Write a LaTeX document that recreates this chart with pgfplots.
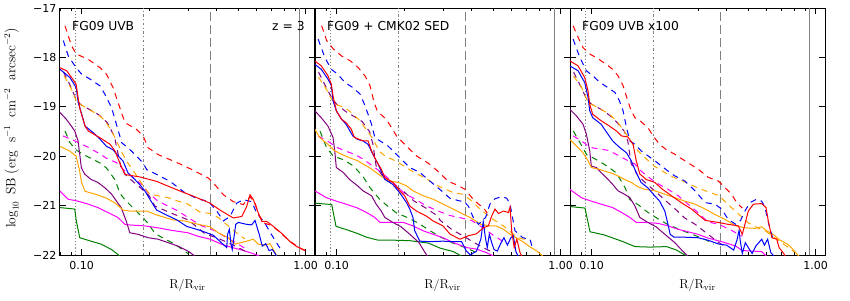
\documentclass[border=0pt]{standalone}
\usepackage{pgfplots}
\pgfplotsset{compat=1.18}
\usepackage{fontspec}
\newfontfamily\dejavu{DejaVu Sans}
\definecolor{mred}{RGB}{255,0,0}
\definecolor{mblue}{RGB}{0,0,255}
\definecolor{morange}{RGB}{255,165,0}
\definecolor{mmagenta}{RGB}{255,0,255}
\definecolor{mpurple}{RGB}{128,0,128}
\definecolor{mgreen}{RGB}{0,128,0}
\definecolor{mgray}{RGB}{128,128,128}
\newcommand{\ticfont}{\dejavu\fontsize{11}{13}\selectfont}
\newcommand{\labfont}{\fontsize{13}{15}\selectfont}
\newcommand{\ylabfont}{\fontsize{13.5}{16}\selectfont}
\newcommand{\txtfont}{\dejavu\fontsize{12.3}{14}\selectfont}
\tikzset{sol/.style={line width=1pt}, das/.style={line width=1pt, dash pattern=on 6pt off 5pt}}
\newcommand{\vlines}{%
  \addplot[mgray, line width=1.2pt, dash pattern=on 1.2pt off 2pt] coordinates {(0.094,-22) (0.094,-17)};
  \addplot[mgray, line width=1.1pt, dash pattern=on 2.5pt off 2.5pt on 1pt off 2.5pt] coordinates {(0.188,-22) (0.188,-17)};
  \addplot[mgray, line width=1.2pt, dash pattern=on 9pt off 4pt] coordinates {(0.375,-22) (0.375,-17)};
  \addplot[mgray, line width=1.2pt] coordinates {(0.937,-22) (0.937,-17)};
}
\begin{document}
\begin{tikzpicture}
\useasboundingbox (0,0) rectangle (850pt,300pt);
% ---------------- Panel 1 ----------------
\begin{axis}[xmode=log, scale only axis, width=255pt, height=247pt, anchor=south west,
    xmin=0.08, xmax=1.1, ymin=-22, ymax=-17,
    xtick={0.1,1}, xticklabels={0.10,1.00},
    minor xtick={0.08,0.09,0.2,0.3,0.4,0.5,0.6,0.7,0.8,0.9},
    ytick={-22,-21,-20,-19,-18,-17},
    tick align=inside, major tick length=6pt, minor tick length=3pt,
    tick style={black, line width=0.8pt}, axis line style={line width=1pt},
    ticklabel style={font=\ticfont}, xticklabel style={yshift=-3pt},
    xlabel style={font=\labfont, at={(axis description cs:0.5,-0.125)}, anchor=center},
    xlabel={$\mathrm{R/R_{vir}}$}, clip=true,
  at={(60pt,45pt)},
  yticklabels={−22,−21,−20,−19,−18,−17},
  ylabel style={font=\ylabfont, at={(axis description cs:-0.19,0.515)}, anchor=center, rotate=0},
  ylabel={$\log_{10}\;\mathrm{SB}\;(\mathrm{erg}\;\;\mathrm{s}^{-1}\;\;\mathrm{cm}^{-2}\;\;\mathrm{arcsec}^{-2})$}]
\vlines
\addplot[mgreen, sol] coordinates {(0.0798,-21.04) (0.0931,-21.07) (0.0946,-21.31) (0.098,-21.65) (0.110,-21.72) (0.122,-21.78) (0.136,-21.89) (0.145,-21.99) (0.15,-22.05)};
\addplot[mgreen, das] coordinates {(0.0842,-19.49) (0.0887,-19.73) (0.0944,-19.87) (0.102,-19.97) (0.113,-20.07) (0.121,-20.14) (0.129,-20.24) (0.141,-20.48) (0.148,-20.75) (0.156,-20.88) (0.170,-21.05) (0.188,-21.25) (0.198,-21.36) (0.212,-21.56) (0.231,-21.66) (0.256,-21.76) (0.284,-21.90) (0.3,-21.98)};
\addplot[mmagenta, sol] coordinates {(0.0798,-20.70) (0.0869,-20.87) (0.0963,-20.91) (0.107,-20.97) (0.118,-21.04) (0.131,-21.14) (0.145,-21.24) (0.156,-21.38) (0.161,-21.39) (0.191,-21.41) (0.219,-21.45) (0.251,-21.50) (0.298,-21.55) (0.33,-21.62) (0.374,-21.68) (0.42,-21.78) (0.47,-21.85) (0.52,-21.9) (0.58,-21.97) (0.62,-22.02)};
\addplot[mmagenta, das] coordinates {(0.0826,-19.59) (0.0899,-19.66) (0.0963,-19.72) (0.107,-19.82) (0.118,-19.93) (0.131,-20.06) (0.143,-20.13) (0.156,-20.30) (0.169,-20.43) (0.185,-20.57) (0.198,-20.74) (0.219,-20.91) (0.243,-21.01) (0.269,-21.11) (0.298,-21.24) (0.343,-21.41) (0.394,-21.51) (0.444,-21.65) (0.5,-21.78) (0.55,-21.9)};
\addplot[mpurple, sol] coordinates {(0.0798,-19.11) (0.0853,-19.25) (0.0899,-19.39) (0.0931,-19.49) (0.0963,-19.69) (0.098,-19.96) (0.0996,-20.23) (0.103,-20.36) (0.110,-20.47) (0.118,-20.53) (0.127,-20.64) (0.136,-20.77) (0.143,-20.91) (0.150,-21.04) (0.158,-21.31) (0.164,-21.55) (0.178,-21.58) (0.198,-21.65) (0.219,-21.68) (0.243,-21.75) (0.269,-21.82) (0.298,-21.92) (0.32,-22.02)};
\addplot[mpurple, das] coordinates {(0.083,-18.30) (0.09,-18.62) (0.095,-18.88) (0.1,-18.97) (0.11,-19.07) (0.12,-19.17) (0.13,-19.32) (0.14,-19.6) (0.15,-20.25) (0.16,-20.42) (0.179,-20.60) (0.2,-20.8) (0.212,-21.01) (0.25,-21.15) (0.299,-21.29) (0.355,-21.57) (0.4,-21.65) (0.45,-21.75) (0.5,-21.85) (0.55,-21.95)};
\addplot[morange, sol] coordinates {(0.080,-19.80) (0.0887,-19.90) (0.0944,-20.0) (0.0976,-20.27) (0.1,-20.54) (0.1035,-20.71) (0.117,-20.78) (0.129,-20.85) (0.141,-20.95) (0.153,-21.09) (0.164,-21.11) (0.195,-21.11) (0.216,-21.19) (0.256,-21.29) (0.289,-21.31) (0.332,-21.38) (0.374,-21.43) (0.407,-21.55) (0.451,-21.65) (0.483,-21.78) (0.535,-21.73) (0.584,-21.68) (0.614,-21.78) (0.658,-21.80) (0.693,-21.77) (0.717,-21.89) (0.743,-22.02)};
\addplot[morange, das] coordinates {(0.0834,-18.37) (0.0899,-18.64) (0.0946,-18.88) (0.101,-18.98) (0.110,-19.08) (0.118,-19.15) (0.127,-19.28) (0.136,-19.49) (0.143,-19.69) (0.150,-19.89) (0.158,-20.09) (0.166,-20.23) (0.178,-20.43) (0.188,-20.60) (0.201,-20.77) (0.219,-20.80) (0.243,-20.84) (0.269,-20.91) (0.298,-20.97) (0.337,-21.13) (0.374,-21.16) (0.407,-21.24) (0.451,-21.41) (0.509,-21.61) (0.535,-21.67)};
\addplot[mblue, sol] coordinates {(0.080,-18.24) (0.0887,-18.41) (0.0944,-18.61) (0.0966,-18.92) (0.1,-19.15) (0.1035,-19.39) (0.113,-19.53) (0.121,-19.66) (0.129,-19.80) (0.138,-19.87) (0.146,-20.0) (0.153,-20.10) (0.161,-20.34) (0.17,-20.44) (0.182,-20.58) (0.192,-20.71) (0.202,-20.88) (0.216,-21.09) (0.239,-21.19) (0.266,-21.29) (0.294,-21.42) (0.337,-21.5) (0.387,-21.6) (0.42,-21.75) (0.444,-21.85) (0.448,-21.58) (0.456,-21.48) (0.464,-21.78) (0.47,-21.89) (0.478,-21.65) (0.487,-21.38) (0.5,-21.34) (0.545,-21.38) (0.574,-21.39) (0.594,-21.30) (0.62,-21.58) (0.64,-21.82) (0.663,-21.77) (0.686,-21.91) (0.71,-21.89) (0.73,-21.97) (0.745,-22.05)};
\addplot[mblue, das] coordinates {(0.0828,-17.66) (0.0871,-17.97) (0.0944,-18.21) (0.1,-18.34) (0.109,-18.44) (0.121,-18.58) (0.127,-18.75) (0.136,-19.02) (0.143,-19.36) (0.151,-19.73) (0.161,-19.83) (0.176,-20.0) (0.188,-20.14) (0.195,-20.27) (0.216,-20.37) (0.248,-20.51) (0.289,-20.74) (0.332,-20.87) (0.367,-20.91) (0.401,-21.11) (0.429,-21.31) (0.459,-21.22) (0.492,-20.95) (0.526,-20.88) (0.574,-20.92) (0.604,-21.15) (0.658,-21.36) (0.704,-21.59) (0.767,-21.86)};
\addplot[mred, sol] coordinates {(0.080,-18.21) (0.0857,-18.27) (0.0902,-18.41) (0.0944,-18.54) (0.0966,-18.85) (0.0983,-19.05) (0.1035,-19.39) (0.107,-19.49) (0.121,-19.63) (0.134,-19.76) (0.141,-19.90) (0.148,-20.14) (0.156,-20.37) (0.182,-20.42) (0.216,-20.51) (0.266,-20.68) (0.315,-20.81) (0.374,-20.95) (0.414,-21.09) (0.475,-21.25) (0.518,-21.22) (0.545,-21.02) (0.564,-20.78) (0.584,-20.88) (0.614,-21.15) (0.637,-21.32) (0.67,-21.32) (0.717,-21.42) (0.794,-21.59) (0.851,-21.73) (0.912,-21.83) (0.99,-21.9)};
\addplot[mred, das] coordinates {(0.0842,-17.36) (0.0902,-17.77) (0.0944,-17.93) (0.107,-18.04) (0.121,-18.21) (0.129,-18.34) (0.138,-18.61) (0.148,-19.02) (0.156,-19.32) (0.176,-19.46) (0.188,-19.59) (0.198,-19.83) (0.22,-19.97) (0.248,-20.07) (0.279,-20.17) (0.31,-20.27) (0.367,-20.44) (0.387,-20.54) (0.429,-20.78) (0.475,-20.92) (0.526,-20.98) (0.564,-20.82) (0.594,-20.95) (0.62,-21.2) (0.65,-21.35) (0.7,-21.4) (0.75,-21.5) (0.8,-21.62) (0.85,-21.72) (0.9,-21.8) (0.96,-21.88) (1.0,-21.92)};
\node[anchor=west, font=\txtfont, inner sep=0pt] at (rel axis cs:0.047,0.927) {FG09 UVB};
\node[anchor=east, font=\txtfont, inner sep=0pt] at (rel axis cs:0.96,0.927) {z = 3};
\end{axis}
% ---------------- Panel 2 ----------------
\begin{axis}[xmode=log, scale only axis, width=255pt, height=247pt, anchor=south west,
    xmin=0.08, xmax=1.1, ymin=-22, ymax=-17,
    xtick={0.1,1}, xticklabels={0.10,1.00},
    minor xtick={0.08,0.09,0.2,0.3,0.4,0.5,0.6,0.7,0.8,0.9},
    ytick={-22,-21,-20,-19,-18,-17},
    tick align=inside, major tick length=6pt, minor tick length=3pt,
    tick style={black, line width=0.8pt}, axis line style={line width=1pt},
    ticklabel style={font=\ticfont}, xticklabel style={yshift=-3pt},
    xlabel style={font=\labfont, at={(axis description cs:0.5,-0.125)}, anchor=center},
    xlabel={$\mathrm{R/R_{vir}}$}, clip=true,
    at={(315pt,45pt)}, yticklabels={}]
\vlines
\addplot[mgreen, sol] coordinates {(0.08,-20.95) (0.095,-20.98) (0.0993,-21.42) (0.111,-21.49) (0.123,-21.56) (0.136,-21.64) (0.153,-21.70) (0.179,-21.70) (0.212,-21.71) (0.257,-21.76) (0.289,-21.86) (0.331,-21.93) (0.36,-22.02)};
\addplot[mgreen, das] coordinates {(0.0842,-19.49) (0.0902,-19.83) (0.0966,-20.0) (0.107,-20.07) (0.119,-20.20) (0.131,-20.41) (0.141,-20.64) (0.156,-20.88) (0.17,-21.02) (0.185,-21.15) (0.209,-21.25) (0.232,-21.36) (0.257,-21.49) (0.289,-21.63) (0.331,-21.76) (0.38,-21.86) (0.42,-21.95)};
\addplot[mmagenta, sol] coordinates {(0.0798,-20.70) (0.0899,-20.84) (0.0996,-20.91) (0.110,-20.97) (0.124,-21.05) (0.136,-21.14) (0.148,-21.24) (0.156,-21.34) (0.172,-21.34) (0.198,-21.34) (0.219,-21.41) (0.243,-21.51) (0.269,-21.58) (0.298,-21.65) (0.332,-21.75) (0.38,-21.85) (0.42,-21.88) (0.465,-21.95) (0.5,-22.02)};
\addplot[mmagenta, das] coordinates {(0.0826,-19.59) (0.09,-19.68) (0.095,-19.75) (0.1,-19.82) (0.11,-19.9) (0.12,-19.96) (0.13,-20.05) (0.14,-20.15) (0.15,-20.25) (0.16,-20.35) (0.17,-20.45) (0.18,-20.55) (0.19,-20.65) (0.2,-20.75) (0.22,-20.85) (0.25,-21.0) (0.28,-21.1) (0.32,-21.2) (0.36,-21.25) (0.4,-21.3) (0.45,-21.45) (0.5,-21.6) (0.55,-21.72)};
\addplot[mpurple, sol] coordinates {(0.0798,-19.08) (0.0853,-19.22) (0.0914,-19.39) (0.0963,-19.62) (0.098,-19.89) (0.0996,-20.23) (0.107,-20.33) (0.114,-20.47) (0.124,-20.60) (0.131,-20.70) (0.143,-20.80) (0.150,-20.97) (0.158,-21.11) (0.164,-21.24) (0.178,-21.34) (0.194,-21.43) (0.212,-21.58) (0.233,-21.75) (0.251,-21.99) (0.255,-22.03)};
\addplot[mpurple, das] coordinates {(0.083,-18.3) (0.09,-18.62) (0.095,-18.82) (0.1,-18.95) (0.11,-19.1) (0.12,-19.2) (0.13,-19.3) (0.14,-19.5) (0.145,-19.75) (0.15,-20.2) (0.16,-20.4) (0.18,-20.58) (0.2,-20.72) (0.22,-20.9) (0.25,-21.05) (0.28,-21.2) (0.29,-21.3) (0.33,-21.5) (0.37,-21.62) (0.4,-21.72) (0.45,-21.85) (0.5,-21.95)};
\addplot[morange, sol] coordinates {(0.0798,-19.45) (0.0839,-19.62) (0.0914,-19.76) (0.098,-19.89) (0.105,-19.96) (0.114,-20.03) (0.124,-20.09) (0.131,-20.16) (0.140,-20.23) (0.150,-20.33) (0.161,-20.43) (0.172,-20.50) (0.188,-20.53) (0.205,-20.60) (0.219,-20.70) (0.243,-20.80) (0.269,-20.87) (0.298,-20.97) (0.321,-21.04) (0.355,-21.14) (0.394,-21.24) (0.44,-21.38) (0.483,-21.41) (0.514,-21.41) (0.555,-21.48) (0.594,-21.58) (0.637,-21.66) (0.677,-21.73) (0.72,-21.82) (0.782,-21.92) (0.808,-21.97) (0.83,-22.02)};
\addplot[morange, das] coordinates {(0.083,-18.4) (0.09,-18.65) (0.095,-18.85) (0.101,-18.97) (0.107,-19.0) (0.115,-19.1) (0.125,-19.25) (0.135,-19.45) (0.145,-19.65) (0.155,-19.9) (0.165,-20.0) (0.18,-20.08) (0.2,-20.2) (0.22,-20.32) (0.25,-20.45) (0.27,-20.55) (0.289,-20.62) (0.332,-20.74) (0.367,-20.77) (0.401,-20.91) (0.429,-21.04) (0.462,-21.16) (0.5,-21.28) (0.555,-21.41) (0.604,-21.55) (0.645,-21.65) (0.686,-21.68) (0.72,-21.73)};
\addplot[mblue, sol] coordinates {(0.0798,-18.14) (0.0853,-18.24) (0.0914,-18.44) (0.0946,-18.57) (0.0963,-18.88) (0.0996,-19.08) (0.105,-19.25) (0.110,-19.35) (0.118,-19.59) (0.124,-19.66) (0.131,-19.69) (0.138,-19.76) (0.145,-19.96) (0.153,-20.16) (0.164,-20.47) (0.178,-20.57) (0.191,-20.74) (0.205,-20.94) (0.212,-21.07) (0.219,-21.24) (0.223,-21.51) (0.235,-21.72) (0.26,-21.73) (0.298,-21.72) (0.332,-21.73) (0.361,-21.73) (0.379,-21.92) (0.395,-22.0) (0.421,-21.92) (0.44,-21.68) (0.451,-21.32) (0.461,-21.65) (0.47,-21.85) (0.48,-21.58) (0.492,-21.75) (0.504,-21.89) (0.521,-21.92) (0.539,-21.77) (0.558,-21.65) (0.578,-21.80) (0.599,-21.65) (0.614,-21.61) (0.631,-21.93) (0.645,-22.02)};
\addplot[mblue, das] coordinates {(0.0826,-17.63) (0.0885,-18.0) (0.0946,-18.24) (0.101,-18.34) (0.109,-18.51) (0.118,-18.61) (0.127,-18.74) (0.133,-18.95) (0.138,-19.15) (0.143,-19.35) (0.148,-19.62) (0.156,-19.69) (0.169,-19.79) (0.182,-19.93) (0.194,-20.06) (0.212,-20.23) (0.235,-20.33) (0.26,-20.5) (0.29,-20.68) (0.32,-20.85) (0.35,-20.9) (0.37,-20.92) (0.387,-21.01) (0.407,-21.24) (0.429,-21.38) (0.462,-21.24) (0.483,-20.97) (0.509,-20.86) (0.545,-20.82) (0.574,-20.85) (0.594,-20.97) (0.625,-21.51) (0.677,-21.65) (0.73,-21.68) (0.75,-21.89)};
\addplot[mred, sol] coordinates {(0.0798,-18.07) (0.0853,-18.17) (0.0914,-18.37) (0.0946,-18.54) (0.0963,-18.78) (0.0996,-19.08) (0.105,-19.25) (0.110,-19.32) (0.116,-19.45) (0.120,-19.62) (0.131,-19.69) (0.138,-19.69) (0.143,-19.89) (0.150,-20.09) (0.158,-20.26) (0.164,-20.43) (0.178,-20.53) (0.191,-20.70) (0.201,-20.80) (0.212,-21.01) (0.227,-21.11) (0.251,-21.21) (0.269,-21.31) (0.298,-21.41) (0.321,-21.58) (0.355,-21.68) (0.387,-21.61) (0.421,-21.57) (0.451,-21.45) (0.475,-21.41) (0.492,-21.21) (0.509,-21.07) (0.527,-21.16) (0.555,-21.11) (0.584,-21.14) (0.594,-21.03) (0.604,-21.51) (0.62,-21.85) (0.637,-21.68) (0.658,-21.95) (0.67,-22.02)};
\addplot[mred, das] coordinates {(0.0857,-17.36) (0.0902,-17.66) (0.0966,-17.83) (0.105,-17.97) (0.115,-18.07) (0.125,-18.21) (0.134,-18.38) (0.141,-18.58) (0.147,-18.92) (0.152,-19.09) (0.167,-19.26) (0.185,-19.59) (0.205,-19.80) (0.228,-20.0) (0.256,-20.14) (0.289,-20.34) (0.315,-20.51) (0.343,-20.58) (0.374,-20.67) (0.401,-20.84) (0.43,-20.97) (0.451,-21.04) (0.47,-21.15)};
\node[anchor=west, font=\txtfont, inner sep=0pt] at (rel axis cs:0.047,0.927) {FG09 + CMK02 SED};
\end{axis}
% ---------------- Panel 3 ----------------
\begin{axis}[xmode=log, scale only axis, width=255pt, height=247pt, anchor=south west,
    xmin=0.08, xmax=1.1, ymin=-22, ymax=-17,
    xtick={0.1,1}, xticklabels={0.10,1.00},
    minor xtick={0.08,0.09,0.2,0.3,0.4,0.5,0.6,0.7,0.8,0.9},
    ytick={-22,-21,-20,-19,-18,-17},
    tick align=inside, major tick length=6pt, minor tick length=3pt,
    tick style={black, line width=0.8pt}, axis line style={line width=1pt},
    ticklabel style={font=\ticfont}, xticklabel style={yshift=-3pt},
    xlabel style={font=\labfont, at={(axis description cs:0.5,-0.125)}, anchor=center},
    xlabel={$\mathrm{R/R_{vir}}$}, clip=true,
    at={(570pt,45pt)}, yticklabels={}]
\vlines
\addplot[mgreen, sol] coordinates {(0.0805,-21.02) (0.0933,-21.05) (0.0983,-21.53) (0.113,-21.59) (0.125,-21.66) (0.138,-21.73) (0.156,-21.83) (0.182,-21.84) (0.216,-21.83) (0.239,-21.90) (0.265,-22.02)};
\addplot[mgreen, das] coordinates {(0.0828,-19.49) (0.0887,-19.73) (0.095,-19.97) (0.105,-20.07) (0.117,-20.20) (0.129,-20.34) (0.141,-20.64) (0.148,-20.88) (0.161,-20.98) (0.176,-21.12) (0.195,-21.25) (0.216,-21.37) (0.248,-21.49) (0.284,-21.59) (0.326,-21.70) (0.35,-21.78)};
\addplot[mmagenta, sol] coordinates {(0.0798,-20.67) (0.0899,-20.84) (0.0996,-20.91) (0.110,-20.97) (0.124,-21.04) (0.136,-21.14) (0.148,-21.24) (0.158,-21.34) (0.172,-21.34) (0.198,-21.36) (0.219,-21.41) (0.243,-21.48) (0.269,-21.53) (0.298,-21.58) (0.332,-21.66) (0.38,-21.73) (0.44,-21.82) (0.47,-21.91) (0.514,-21.92) (0.574,-21.93) (0.6,-22.02)};
\addplot[mmagenta, das] coordinates {(0.0826,-19.59) (0.09,-19.69) (0.098,-19.82) (0.107,-19.85) (0.118,-19.88) (0.131,-19.98) (0.145,-20.09) (0.156,-20.16) (0.166,-20.30) (0.185,-20.47) (0.2,-20.57) (0.219,-20.67) (0.243,-20.80) (0.269,-20.97) (0.298,-21.14) (0.33,-21.33) (0.37,-21.38) (0.42,-21.5) (0.47,-21.62)};
\addplot[mpurple, sol] coordinates {(0.0798,-19.05) (0.0853,-19.18) (0.0914,-19.35) (0.0946,-19.55) (0.098,-19.89) (0.0996,-20.20) (0.105,-20.23) (0.110,-20.33) (0.116,-20.43) (0.124,-20.57) (0.131,-20.70) (0.140,-20.77) (0.148,-20.84) (0.156,-21.01) (0.164,-21.24) (0.178,-21.34) (0.194,-21.43) (0.212,-21.58) (0.235,-21.75) (0.251,-21.89) (0.264,-21.99) (0.27,-22.03)};
\addplot[mpurple, das] coordinates {(0.083,-18.3) (0.09,-18.62) (0.095,-18.85) (0.1,-18.95) (0.11,-19.05) (0.12,-19.17) (0.13,-19.32) (0.14,-19.5) (0.145,-19.7) (0.15,-20.15) (0.16,-20.38) (0.17,-20.5) (0.18,-20.6) (0.2,-20.78) (0.22,-20.95) (0.24,-21.1) (0.26,-21.25) (0.29,-21.38) (0.33,-21.58) (0.37,-21.75) (0.4,-21.85)};
\addplot[morange, sol] coordinates {(0.0798,-19.66) (0.0853,-19.79) (0.0914,-19.93) (0.0963,-20.09) (0.0996,-20.23) (0.107,-20.26) (0.114,-20.30) (0.124,-20.35) (0.131,-20.40) (0.140,-20.47) (0.150,-20.53) (0.161,-20.62) (0.172,-20.67) (0.191,-20.70) (0.212,-20.77) (0.235,-20.84) (0.26,-20.91) (0.289,-20.97) (0.321,-21.07) (0.355,-21.18) (0.394,-21.28) (0.44,-21.41) (0.483,-21.45) (0.535,-21.46) (0.574,-21.43) (0.604,-21.51) (0.645,-21.58) (0.693,-21.70) (0.743,-21.77) (0.782,-21.86) (0.82,-21.97) (0.84,-22.02)};
\addplot[morange, das] coordinates {(0.083,-18.38) (0.09,-18.6) (0.095,-18.85) (0.1,-18.95) (0.11,-19.05) (0.12,-19.15) (0.13,-19.3) (0.14,-19.5) (0.15,-19.7) (0.16,-19.88) (0.17,-20.0) (0.18,-20.1) (0.19,-20.2) (0.21,-20.32) (0.23,-20.42) (0.26,-20.52) (0.29,-20.62) (0.33,-20.72) (0.37,-20.8) (0.4,-20.95) (0.44,-21.12) (0.5,-21.35) (0.55,-21.45) (0.6,-21.52) (0.65,-21.64) (0.7,-21.74) (0.75,-21.84) (0.8,-21.93)};
\addplot[mblue, sol] coordinates {(0.0798,-18.17) (0.0869,-18.27) (0.0931,-18.51) (0.0963,-18.81) (0.098,-19.08) (0.101,-19.22) (0.110,-19.35) (0.118,-19.55) (0.124,-19.69) (0.133,-19.82) (0.143,-19.93) (0.150,-20.09) (0.158,-20.33) (0.166,-20.53) (0.178,-20.64) (0.191,-20.80) (0.201,-20.91) (0.212,-21.11) (0.219,-21.38) (0.224,-21.58) (0.233,-21.64) (0.26,-21.64) (0.298,-21.65) (0.33,-21.7) (0.37,-21.78) (0.4,-21.8) (0.43,-21.9) (0.445,-21.7) (0.455,-21.5) (0.46,-21.7) (0.47,-21.97) (0.485,-21.75) (0.5,-21.85) (0.52,-21.97) (0.54,-21.82) (0.574,-21.68) (0.59,-21.8) (0.61,-21.68) (0.63,-21.95) (0.65,-22.02)};
\addplot[mblue, das] coordinates {(0.0826,-17.63) (0.0885,-18.0) (0.0946,-18.27) (0.101,-18.37) (0.109,-18.51) (0.118,-18.61) (0.127,-18.71) (0.133,-18.88) (0.138,-19.08) (0.143,-19.42) (0.148,-19.69) (0.156,-19.76) (0.166,-19.89) (0.178,-19.99) (0.191,-20.09) (0.205,-20.20) (0.219,-20.30) (0.235,-20.40) (0.26,-20.50) (0.289,-20.7) (0.321,-20.94) (0.355,-20.97) (0.38,-21.07) (0.407,-21.28) (0.44,-21.38) (0.462,-21.30) (0.483,-21.11) (0.509,-20.94) (0.545,-20.87) (0.574,-20.91) (0.594,-21.04) (0.62,-21.41) (0.645,-21.68)};
\addplot[mred, sol] coordinates {(0.0798,-18.07) (0.0869,-18.17) (0.0931,-18.41) (0.0963,-18.68) (0.098,-18.95) (0.101,-19.15) (0.110,-19.28) (0.120,-19.39) (0.129,-19.49) (0.136,-19.59) (0.145,-19.61) (0.153,-19.76) (0.158,-20.09) (0.164,-20.36) (0.175,-20.47) (0.191,-20.53) (0.207,-20.67) (0.227,-20.80) (0.251,-20.94) (0.279,-21.07) (0.298,-21.18) (0.321,-21.30) (0.367,-21.34) (0.407,-21.38) (0.451,-21.41) (0.47,-21.58) (0.483,-21.38) (0.5,-21.11) (0.527,-20.97) (0.574,-20.96) (0.6,-21.04) (0.614,-21.31) (0.637,-21.65) (0.67,-21.68) (0.686,-21.85) (0.72,-21.97) (0.73,-22.02)};
\addplot[mred, das] coordinates {(0.0826,-17.36) (0.0869,-17.59) (0.0914,-17.80) (0.098,-17.93) (0.107,-18.03) (0.116,-18.14) (0.124,-18.24) (0.131,-18.37) (0.138,-18.57) (0.145,-18.88) (0.150,-19.08) (0.156,-19.22) (0.164,-19.28) (0.178,-19.42) (0.188,-19.59) (0.201,-19.76) (0.214,-19.86) (0.235,-19.96) (0.26,-20.09) (0.298,-20.26) (0.332,-20.43) (0.367,-20.50) (0.394,-20.64) (0.421,-20.77) (0.444,-20.94) (0.47,-21.05)};
\node[anchor=west, font=\txtfont, inner sep=0pt] at (rel axis cs:0.047,0.927) {FG09 UVB x100};
\end{axis}
\end{tikzpicture}
\end{document}
